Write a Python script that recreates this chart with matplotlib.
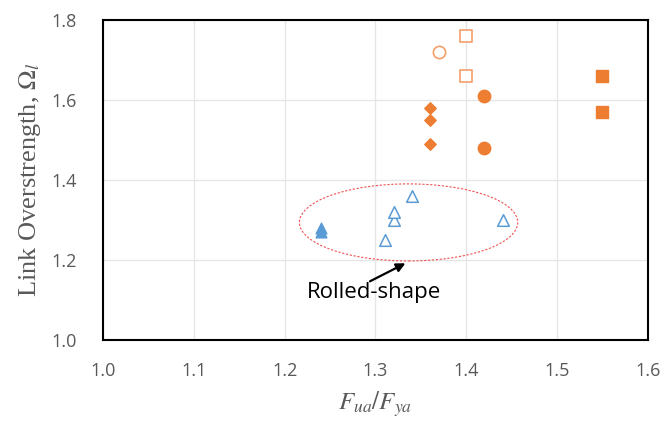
import numpy as np
import matplotlib
matplotlib.use('Agg')
import matplotlib.pyplot as plt
from matplotlib.patches import Ellipse

# data
tri_fill_x = [1.24, 1.24]
tri_fill_y = [1.28, 1.27]
tri_open_x = [1.31, 1.32, 1.32, 1.34, 1.44]
tri_open_y = [1.25, 1.30, 1.32, 1.36, 1.30]
dia_x = [1.36, 1.36, 1.36]
dia_y = [1.58, 1.55, 1.49]
circ_fill_x = [1.42, 1.42]
circ_fill_y = [1.61, 1.48]
circ_open_x = [1.37]
circ_open_y = [1.72]
sq_open_x = [1.40, 1.40]
sq_open_y = [1.76, 1.66]
sq_fill_x = [1.55, 1.55]
sq_fill_y = [1.66, 1.57]

xticks = [1.0, 1.1, 1.2, 1.3, 1.4, 1.5, 1.6]
yticks = [1.0, 1.2, 1.4, 1.6, 1.8]

blue = '#5B9BD5'
orange = '#ED7D31'
light_orange = '#F4A06A'
grey = '#595959'

plt.rcParams['mathtext.fontset'] = 'stix'

fig = plt.figure(figsize=(6.61, 4.21), dpi=100)
ax = fig.add_axes([0.156, 0.192, 0.824, 0.761])

ax.scatter(tri_fill_x, tri_fill_y, marker='^', s=60, color=blue, zorder=3)
ax.scatter(tri_open_x, tri_open_y, marker='^', s=70, facecolor='white',
           edgecolor=blue, linewidth=1.1, zorder=3)
ax.scatter(dia_x, dia_y, marker='D', s=34, color=orange, zorder=3)
ax.scatter(circ_fill_x, circ_fill_y, marker='o', s=80, color=orange, zorder=3)
ax.scatter(circ_open_x, circ_open_y, marker='o', s=78, facecolor='white',
           edgecolor=light_orange, linewidth=1.2, zorder=3)
ax.scatter(sq_open_x, sq_open_y, marker='s', s=85, facecolor='white',
           edgecolor=light_orange, linewidth=1.2, zorder=3)
ax.scatter(sq_fill_x, sq_fill_y, marker='s', s=72, color=orange, zorder=3)

# dashed ellipse round the rolled shapes
ell = Ellipse((1.3365, 1.294), 0.2405, 0.1925, fill=False,
              edgecolor='#F05050', linestyle=(0, (2, 1.5)), linewidth=0.8, zorder=2)
ax.add_patch(ell)

# label and arrow pointing at the ellipse
ax.text(1.298, 1.12, 'Rolled-shape', fontsize=16, family='Open Sans',
        color='black', ha='center', va='center')
ax.annotate('', xy=(1.333, 1.192), xytext=(1.294, 1.147),
            arrowprops=dict(arrowstyle='-|>', color='black', lw=1.6,
                            shrinkA=0, shrinkB=0, mutation_scale=13))

ax.set_xlim(1.0, 1.6)
ax.set_ylim(1.0, 1.8)
ax.set_xticks(xticks)
ax.set_yticks(yticks)
ax.set_xticklabels(['%.1f' % v for v in xticks])
ax.set_yticklabels(['%.1f' % v for v in yticks])
ax.tick_params(length=0, labelsize=13, colors=grey)
ax.tick_params(axis='x', pad=16)
ax.tick_params(axis='y', pad=19)
for lab in ax.get_xticklabels() + ax.get_yticklabels():
    lab.set_family('Open Sans')
ax.grid(True, color='#E6E6E6', linewidth=1)
ax.set_axisbelow(True)
for sp in ax.spines.values():
    sp.set_linewidth(1.5)
    sp.set_color('black')

ax.set_xlabel(r'$F_{ua}/F_{ya}$', fontsize=18, color=grey, labelpad=6)
ax.set_ylabel(r'Link Overstrength, $\Omega_l$', fontsize=19, color=grey,
              family='Liberation Serif', labelpad=6)

fig.savefig('out.png', dpi=100)
